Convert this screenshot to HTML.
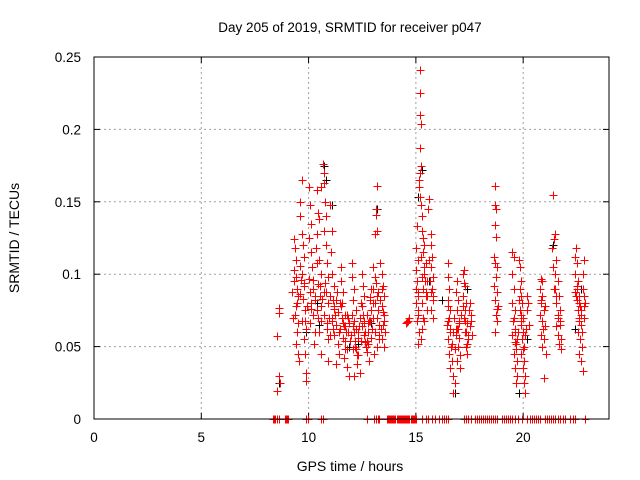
<!DOCTYPE html>
<html><head><meta charset="utf-8"><style>
html,body{margin:0;padding:0;background:#fff}
svg{display:block;font-family:"Liberation Sans",sans-serif}
</style></head><body>
<svg id="chart" width="640" height="480" viewBox="0 0 640 480">
<rect width="640" height="480" fill="#fff"/>
<text x="350" y="32" text-anchor="middle" font-size="13.5">Day 205 of 2019, SRMTID for receiver p047</text>
<text x="350" y="471" text-anchor="middle" font-size="14">GPS time / hours</text>
<text transform="translate(19,238) rotate(-90)" text-anchor="middle" font-size="14">SRMTID / TECUs</text>
<g id="grid"></g>
<g id="ticks"></g>
<g id="black"></g>
<g id="red"></g>
<rect x="94" y="57" width="515" height="362" fill="none" stroke="#000" stroke-width="1"/>
</svg>
<script>
const xTicks=[0,5,10,15,20];
const yTicks=[0,0.05,0.1,0.15,0.2,0.25];
const yTickLabels=["0","0.05","0.1","0.15","0.2","0.25"];
const redHours=[8.6,8.6,8.55,8.6,8.65,8.55,
9.3,9.35,9.4,9.3,9.45,9.5,9.4,9.35,9.5,9.45,9.4,9.5,9.55,9.3,9.6,9.6,9.7,9.7,9.75,9.8,9.7,9.8,9.75,9.85,9.7,9.9,9.8,9.85,9.9,9.9,10.0,10.05,10.1,10.0,10.1,10.15,10.0,10.2,10.1,10.2,10.05,10.3,10.25,10.4,10.45,10.5,10.4,10.35,10.5,10.6,10.45,10.55,10.4,10.6,10.5,10.65,10.7,10.7,10.6,10.75,10.8,10.7,10.8,10.85,10.9,10.8,10.9,10.7,10.85,10.9,10.6,10.9,
11.0,11.1,11.05,11.1,11.2,11.0,11.2,11.1,11.3,11.2,11.35,11.4,11.3,11.5,11.5,11.6,11.55,11.7,11.6,11.75,11.7,11.8,11.65,11.8,11.9,12.0,12.0,12.1,12.05,12.2,12.1,12.2,12.3,12.15,12.3,12.25,12.4,12.1,12.5,12.55,12.6,12.5,12.7,12.6,12.75,12.65,12.7,12.8,12.9,12.85,12.95,12.9,
13.0,13.1,13.0,13.2,13.1,13.25,13.2,13.3,13.1,13.3,13.2,13.05,13.15,13.15,13.2,13.1,13.2,13.35,13.4,13.45,13.5,13.4,13.5,13.45,13.55,13.4,13.5,
14.55,14.6,14.65,14.7,
15.05,15.0,15.1,15.0,15.05,15.1,15.0,15.1,15.05,15.15,15.1,15.2,15.2,15.2,15.25,15.2,15.25,15.2,15.15,15.15,15.2,15.25,15.3,15.3,15.35,15.4,15.35,15.45,15.4,15.5,15.35,15.45,15.3,15.5,15.4,15.3,15.25,15.55,15.6,15.7,15.7,15.75,15.7,15.8,15.75,15.8,15.7,
16.5,16.5,16.55,16.5,16.6,16.55,16.45,16.6,16.5,16.65,16.55,16.7,16.6,16.75,16.8,16.75,16.9,16.85,16.95,16.9,17.0,16.85,17.0,16.95,17.05,16.9,17.05,17.2,17.25,17.3,17.2,17.35,17.3,17.25,17.4,17.3,17.45,17.35,17.4,17.5,17.55,17.5,17.6,
18.7,18.7,18.75,18.7,18.75,18.65,18.7,18.8,18.75,18.65,18.8,18.7,18.85,18.75,18.8,18.7,18.8,
19.5,19.55,19.5,19.55,19.5,19.6,19.55,19.6,19.5,19.6,19.65,19.55,19.7,19.6,19.7,19.65,19.8,19.85,19.9,19.85,19.9,19.95,19.85,20.0,19.9,20.0,19.95,20.05,19.9,20.05,20.0,20.1,20.05,20.1,20.2,20.2,20.25,
20.85,20.9,20.8,20.9,20.85,20.95,20.8,20.9,21.0,20.85,20.95,20.9,21.05,20.95,
21.4,21.5,21.45,21.35,21.55,21.4,21.5,21.6,21.5,21.65,21.55,21.7,21.6,21.7,21.55,21.6,21.75,21.65,21.75,
22.4,22.45,22.5,22.4,22.55,22.5,22.6,22.5,22.65,22.55,22.7,22.6,22.7,22.55,22.65,22.75,22.6,22.8,22.85,22.8,22.85,22.9,22.85,22.8,22.7,
9.25,9.42,9.58,9.62,9.78,9.92,10.08,10.22,10.32,10.38,10.52,10.62,10.78,10.95,9.28,9.48,9.66,9.82,10.12,10.28,10.42,10.58,10.72,10.88,
11.08,11.18,11.28,11.38,11.48,11.58,11.68,11.78,11.88,11.98,12.08,12.18,12.28,12.38,12.48,12.58,12.68,12.78,12.88,12.98,
11.02,11.15,11.25,11.42,11.52,11.62,11.72,11.85,11.95,12.02,12.12,12.22,12.35,12.45,12.55,12.62,12.72,12.82,12.92,
11.12,11.32,11.45,11.65,11.82,12.05,12.25,12.42,12.58,12.75,12.88,13.02,13.12,13.22,13.32,13.42,13.52,13.28,13.38,13.48,
15.02,15.12,15.22,15.32,15.42,15.52,15.62,15.72,15.82,15.08,15.28,15.38,15.48,15.65,15.78,
16.48,16.58,16.68,16.78,16.88,16.98,17.08,17.18,17.28,17.38,17.48,16.52,16.62,16.72,16.82,16.92,17.02,17.22,17.32,17.42,17.58,
19.52,19.62,19.72,19.82,19.92,20.02,20.12,19.58,19.68,19.78,19.88,19.98,20.08,20.22,
20.82,20.92,21.02,21.42,21.52,21.62,21.72,22.42,22.52,22.62,22.72,22.82,22.48,22.58,22.68,22.78];
const redValues=[0.077,0.073,0.057,0.030,0.025,0.019,
0.124,0.118,0.110,0.095,0.090,0.085,0.078,0.072,0.066,0.060,0.052,0.045,0.040,0.103,0.140,0.150,0.165,0.128,0.120,0.112,0.100,0.092,0.083,0.075,0.068,0.062,0.055,0.045,0.032,0.026,0.160,0.148,0.135,0.125,0.115,0.105,0.097,0.090,0.080,0.072,0.066,0.060,0.052,0.158,0.142,0.138,0.128,0.118,0.110,0.100,0.093,0.085,0.075,0.068,0.060,0.176,0.170,0.163,0.160,0.150,0.140,0.130,0.120,0.108,0.098,0.088,0.080,0.072,0.062,0.055,0.045,0.040,
0.148,0.130,0.115,0.100,0.092,0.085,0.078,0.070,0.065,0.058,0.052,0.045,0.038,0.105,0.095,0.088,0.080,0.072,0.066,0.060,0.054,0.048,0.042,0.036,0.030,0.108,0.098,0.090,0.082,0.075,0.068,0.062,0.056,0.050,0.044,0.038,0.032,0.030,0.100,0.092,0.085,0.078,0.072,0.066,0.060,0.053,0.046,0.040,0.075,0.068,0.062,0.056,
0.105,0.098,0.090,0.085,0.080,0.075,0.070,0.065,0.060,0.055,0.050,0.045,0.145,0.141,0.130,0.128,0.161,0.108,0.100,0.092,0.085,0.078,0.072,0.065,0.060,0.055,0.050,
0.066,0.067,0.068,0.070,
0.133,0.118,0.110,0.103,0.095,0.088,0.080,0.075,0.068,0.060,0.052,0.241,0.225,0.210,0.204,0.187,0.175,0.170,0.165,0.160,0.153,0.148,0.140,0.130,0.125,0.120,0.115,0.108,0.100,0.095,0.090,0.085,0.080,0.075,0.068,0.062,0.055,0.145,0.152,0.128,0.120,0.112,0.105,0.098,0.090,0.082,0.075,
0.108,0.098,0.090,0.082,0.075,0.070,0.065,0.060,0.055,0.050,0.045,0.040,0.035,0.030,0.025,0.018,0.095,0.088,0.082,0.075,0.068,0.062,0.056,0.050,0.044,0.040,0.035,0.100,0.103,0.092,0.085,0.080,0.075,0.070,0.066,0.060,0.055,0.050,0.045,0.080,0.072,0.064,0.058,
0.161,0.148,0.145,0.134,0.126,0.112,0.108,0.105,0.098,0.092,0.088,0.082,0.078,0.072,0.068,0.060,0.076,
0.115,0.112,0.100,0.090,0.080,0.075,0.070,0.062,0.058,0.053,0.048,0.045,0.040,0.035,0.030,0.025,0.110,0.105,0.095,0.090,0.085,0.080,0.075,0.070,0.065,0.060,0.055,0.050,0.045,0.040,0.035,0.030,0.025,0.018,0.085,0.075,0.065,
0.097,0.095,0.090,0.085,0.080,0.075,0.072,0.068,0.064,0.058,0.055,0.050,0.045,0.028,
0.155,0.128,0.124,0.118,0.110,0.105,0.100,0.095,0.090,0.085,0.080,0.075,0.072,0.068,0.064,0.058,0.055,0.052,0.048,
0.112,0.118,0.108,0.100,0.095,0.090,0.085,0.082,0.078,0.075,0.072,0.068,0.065,0.060,0.055,0.050,0.045,0.100,0.110,0.090,0.085,0.080,0.070,0.033,0.040,
0.088,0.098,0.086,0.106,0.094,0.078,0.088,0.096,0.082,0.108,0.092,0.083,0.094,0.070,0.070,0.080,0.096,0.068,0.076,0.085,0.070,0.078,0.088,0.066,
0.068,0.076,0.082,0.074,0.062,0.070,0.064,0.072,0.066,0.058,0.064,0.054,0.060,0.070,0.064,0.058,0.050,0.066,0.084,0.080,
0.058,0.062,0.072,0.060,0.078,0.056,0.048,0.060,0.054,0.072,0.060,0.048,0.064,0.080,0.072,0.060,0.054,0.068,0.090,
0.082,0.088,0.080,0.064,0.070,0.048,0.044,0.054,0.068,0.052,0.082,0.070,0.094,0.088,0.082,0.090,0.068,0.058,0.062,0.074,
0.090,0.085,0.112,0.070,0.095,0.085,0.110,0.088,0.070,0.072,0.098,0.105,0.088,0.095,0.085,
0.078,0.062,0.052,0.070,0.058,0.062,0.072,0.078,0.068,0.052,0.075,0.068,0.050,0.060,0.048,0.062,0.066,0.094,0.060,0.058,0.068,
0.068,0.060,0.055,0.082,0.068,0.050,0.062,0.090,0.052,0.060,0.072,0.048,0.058,0.080,
0.082,0.062,0.078,0.090,0.085,0.070,0.065,0.088,0.092,0.080,0.060,0.078,0.085,0.070,0.075];
const blackHours=[10.7,10.8,11.1,9.9,10.5,10.4,13.2,15.2,15.1,15.3,15.6,16.2,17.4,16.8,18.8,19.8,20.2,21.4,22.4,22.7,12.9,11.9,8.6,12.3];
const blackValues=[0.175,0.165,0.148,0.060,0.065,0.080,0.145,0.187,0.153,0.172,0.095,0.082,0.090,0.018,0.105,0.018,0.055,0.120,0.062,0.090,0.066,0.050,0.025,0.052];
const zeroHours=[8.35,8.4,8.45,8.55,8.6,8.9,8.95,9.0,9.05,9.9,9.95,10.6,10.65,12.7,13.05,13.15,13.25,13.3,
13.65,13.7,13.75,13.8,13.85,13.9,13.95,14.0,14.05,14.1,14.15,14.2,14.25,14.3,14.35,14.4,14.45,14.5,14.55,14.6,14.65,14.7,14.75,14.8,14.85,14.9,14.95,15.0,
15.3,15.45,15.55,15.75,15.9,16.1,16.2,16.3,16.4,16.5,17.25,17.35,17.45,17.55,17.75,17.85,17.95,18.05,18.15,18.2,18.3,18.4,18.5,18.6,18.7,18.8,
19.0,19.1,19.2,19.3,19.4,19.5,19.6,19.75,19.95,20.2,20.3,20.4,20.5,20.6,20.7,20.8,21.0,21.1,21.2,21.3,21.4,21.5,21.6,21.7,21.85,21.95,22.2,22.3,22.4,22.9];
const X0=94,X1=609,Y0=419,Y1=57,XMAX=24,YMAX=0.25;
function xs(h){return X0+(X1-X0)*h/XMAX;}
function ys(v){return Y0-(Y0-Y1)*v/YMAX;}
const NS="http://www.w3.org/2000/svg";
function mk(tag,attrs,parent){const e=document.createElementNS(NS,tag);for(const k in attrs)e.setAttribute(k,attrs[k]);parent.appendChild(e);return e;}
const grid=document.getElementById('grid'),ticks=document.getElementById('ticks');
xTicks.forEach(t=>{const x=xs(t);
 if(t>0){const g=mk('line',{x1:x,y1:Y1,x2:x,y2:Y0,stroke:'#a0a0a0','stroke-dasharray':'2,3'},grid);
 
 }
 mk('line',{x1:x,y1:Y0,x2:x,y2:Y0-6,stroke:'#000'},ticks);
 mk('line',{x1:x,y1:Y1,x2:x,y2:Y1+6,stroke:'#000'},ticks);
 const l=mk('text',{x:x,y:442,'text-anchor':'middle','font-size':'13.5'},ticks);l.textContent=String(t);
 
 });
yTicks.forEach((t,i)=>{const y=ys(t);
 if(i>0){const g=mk('line',{x1:X0,y1:y,x2:X1,y2:y,stroke:'#a0a0a0','stroke-dasharray':'2,3'},grid);
 
 }
 mk('line',{x1:X0,y1:y,x2:X0+6,y2:y,stroke:'#000'},ticks);
 mk('line',{x1:X1,y1:y,x2:X1-6,y2:y,stroke:'#000'},ticks);
 const l=mk('text',{x:81,y:y+5,'text-anchor':'end','font-size':'13.5'},ticks);l.textContent=yTickLabels[i];
 
 });
function plus(g,h,v,color){const x=Math.round(xs(h))+0.5,y=Math.round(ys(v))+0.5;
 const p=mk('path',{d:`M${x-4},${y}H${x+4}M${x},${y-4}V${y+4}`,stroke:color,'stroke-width':1,fill:'none'},g);
 
 }
const bg=document.getElementById('black'),rg=document.getElementById('red');
blackHours.forEach((h,i)=>plus(bg,h,blackValues[i],'#000'));
redHours.forEach((h,i)=>plus(rg,h,redValues[i],'#f00'));
zeroHours.forEach(h=>plus(rg,h,0,'#f00'));
</script>
</body></html>
